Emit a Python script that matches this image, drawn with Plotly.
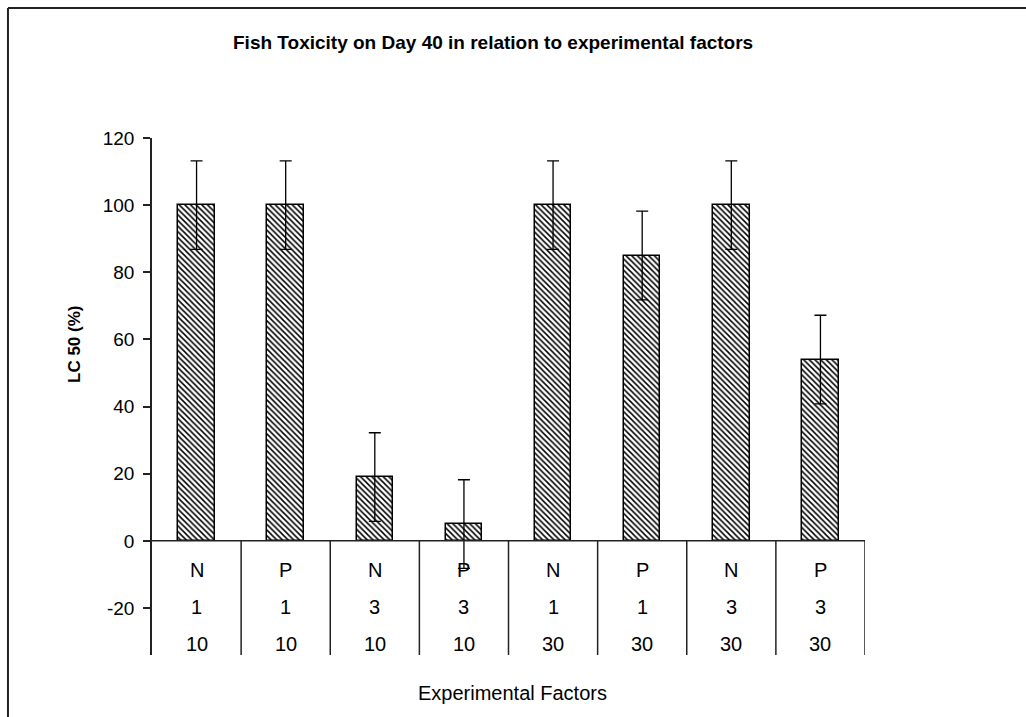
import plotly.graph_objects as go

# ---- data ----
lc50 = [100, 100, 19, 5, 100, 85, 100, 54]
err = [13.2, 13.2, 13.2, 13.2, 13.2, 13.2, 13.2, 13.2]
factor_a = ["N", "P", "N", "P", "N", "P", "N", "P"]
factor_b = ["1", "1", "3", "3", "1", "1", "3", "3"]
factor_c = ["10", "10", "10", "10", "30", "30", "30", "30"]
y_ticks = [-20, 0, 20, 40, 60, 80, 100, 120]
y_tick_text = ["-20", "0", "20", "40", "60", "80", "100", "120"]

FONT = "Liberation Sans, Arial, sans-serif"
LINE = "#222222"
x_idx = list(range(len(lc50)))

fig = go.Figure()
fig.add_trace(go.Bar(
    x=x_idx, y=lc50, width=0.41,
    marker=dict(color="white",
                line=dict(color="black", width=1.5),
                pattern=dict(shape="\\", size=4, solidity=0.38,
                             fgcolor="black", bgcolor="white", fillmode="replace")),
    error_y=dict(type="data", array=err, visible=True, color="black",
                 thickness=1.3, width=6),
    showlegend=False,
))

shapes = []
shapes.append(dict(type="line", xref="paper", yref="y", x0=0, x1=1, y0=0, y1=0,
                   line=dict(color=LINE, width=1.5)))
for b in [i + 0.5 for i in range(len(lc50))]:
    shapes.append(dict(type="line", xref="x", yref="y", x0=b, x1=b, y0=0, y1=-34,
                       line=dict(color=LINE, width=1.5)))
shapes.append(dict(type="line", xref="paper", yref="paper", x0=-0.202, x1=-0.202,
                   y0=-0.3, y1=1.2515, line=dict(color=LINE, width=2)))
shapes.append(dict(type="line", xref="paper", yref="paper", x0=-0.202, x1=1.4,
                   y0=1.2515, y1=1.2515, line=dict(color=LINE, width=2)))

annotations = []
for i in x_idx:
    for lab, yv in [(factor_a[i], -8.6), (factor_b[i], -19.8), (factor_c[i], -30.7)]:
        annotations.append(dict(x=i, y=yv, xref="x", yref="y", text=lab,
                                xanchor="center", yanchor="middle",
                                showarrow=False, font=dict(family=FONT, size=20, color="black")))

annotations.append(dict(x=(493 - 152) / 713, y=(655 - 42) / 517, xref="paper", yref="paper",
                        xanchor="center", yanchor="middle",
                        text="<b>Fish Toxicity on Day 40 in relation to experimental factors</b>",
                        showarrow=False, font=dict(family=FONT, size=19, color="black")))
annotations.append(dict(x=(74 - 152) / 713, y=(655 - 345) / 517, xref="paper", yref="paper",
                        xanchor="center", yanchor="middle",
                        text="<b>LC 50 (%)</b>", textangle=-90,
                        showarrow=False, font=dict(family=FONT, size=17, color="black")))
annotations.append(dict(x=(512 - 152) / 713, y=(655 - 693) / 517, xref="paper", yref="paper",
                        xanchor="center", yanchor="middle",
                        text="Experimental Factors",
                        showarrow=False, font=dict(family=FONT, size=20, color="black")))

fig.update_layout(
    width=1026, height=717,
    margin=dict(l=152, r=161, t=138, b=62, pad=0),
    paper_bgcolor="white", plot_bgcolor="white",
    xaxis=dict(range=[-0.5, len(lc50) - 0.5], showticklabels=False, showgrid=False,
               zeroline=False, showline=False, ticks=""),
    yaxis=dict(range=[-34, 120], tickvals=y_ticks, ticktext=y_tick_text,
               ticks="outside", ticklen=7, ticklabelstandoff=5,
               tickwidth=1.5, tickcolor=LINE, showline=True, linecolor=LINE, linewidth=1.5,
               showgrid=False, zeroline=False,
               tickfont=dict(family=FONT, size=19, color="black")),
    shapes=shapes,
    annotations=annotations,
    bargap=0,
)

fig.write_html("out.html")
